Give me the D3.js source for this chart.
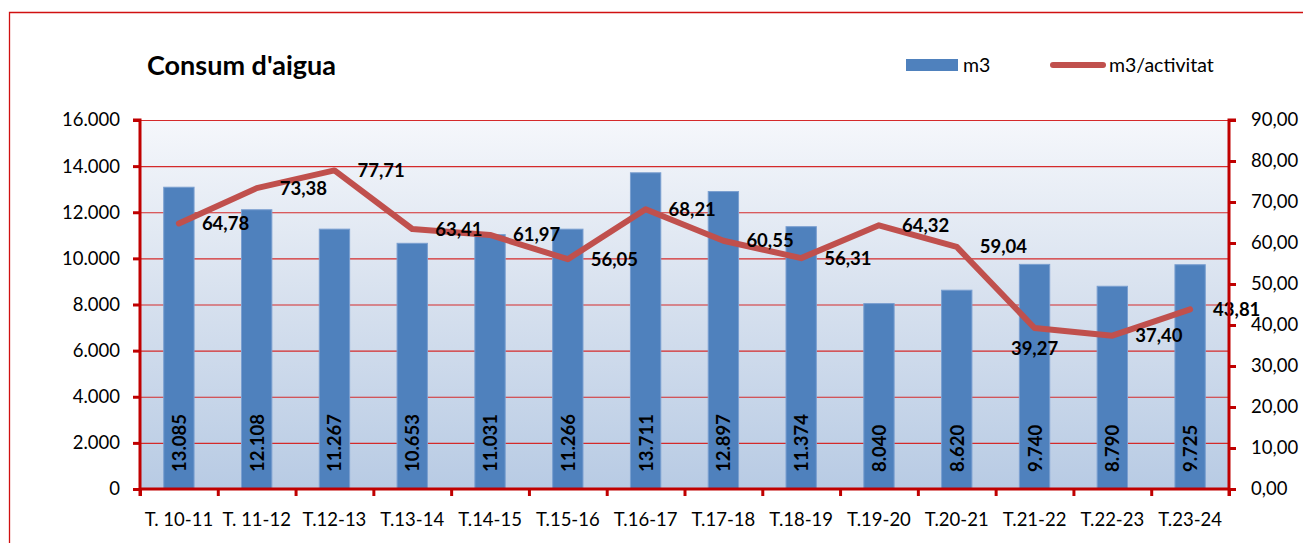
<!DOCTYPE html>
<html><head><meta charset="utf-8">
<script src="https://cdn.jsdelivr.net/npm/d3@7"></script>
<style>
html,body{margin:0;padding:0;background:#fff;}
text{font-family:Lato,"Noto Sans",sans-serif;fill:#000;}
</style></head>
<body><svg id="c" width="1303" height="543"></svg>
<script>
const categories = ["T. 10-11","T. 11-12","T.12-13","T.13-14","T.14-15","T.15-16","T.16-17","T.17-18","T.18-19","T.19-20","T.20-21","T.21-22","T.22-23","T.23-24"];
const m3 = [13085,12108,11267,10653,11031,11266,13711,12897,11374,8040,8620,9740,8790,9725];
const m3PerActivitat = [64.78,73.38,77.71,63.41,61.97,56.05,68.21,60.55,56.31,64.32,59.04,39.27,37.40,43.81];
const leftTicks = [0,2000,4000,6000,8000,10000,12000,14000,16000];
const rightTicks = [0,10,20,30,40,50,60,70,80,90];
const labelBelow = [false,false,false,false,false,false,false,false,false,false,false,true,false,false];

const svg = d3.select("#c");
const M = {l:140, r:1229, t:120, b:489};
const RED = "#c00000";

// outer border
svg.append("path").attr("d","M9.5,543 L9.5,12.5 L1303,12.5").attr("fill","none").attr("stroke","#d01010").attr("stroke-width",1.3);

const defs = svg.append("defs");
const g = defs.append("linearGradient").attr("id","bg").attr("x1",0).attr("y1",0).attr("x2",0).attr("y2",1);
g.append("stop").attr("offset","0%").attr("stop-color","#f5f7fb");
g.append("stop").attr("offset","50%").attr("stop-color","#d6e0ee");
g.append("stop").attr("offset","100%").attr("stop-color","#b8cbe4");

const x = d3.scaleBand().domain(categories).range([M.l,M.r]).paddingInner(0).paddingOuter(0);
const yL = d3.scaleLinear().domain([0,16000]).range([M.b,M.t]);
const yR = d3.scaleLinear().domain([0,90]).range([M.b,M.t]);
const xi = d3.scaleLinear().domain([0,categories.length]).range([M.l,M.r]);

svg.append("rect").attr("x",M.l).attr("y",M.t).attr("width",M.r-M.l).attr("height",M.b-M.t).attr("fill","url(#bg)");

// gridlines
svg.append("g").selectAll("line").data(leftTicks.filter(d=>d>0)).join("line")
  .attr("x1",M.l).attr("x2",M.r).attr("y1",d=>yL(d)+0.5).attr("y2",d=>yL(d)+0.5)
  .attr("stroke","#d42a2a").attr("stroke-width",1.2);

// bars
const bw = x.bandwidth()*0.39;
svg.append("g").selectAll("rect").data(m3).join("rect")
  .attr("x",(d,i)=>x(categories[i])+x.bandwidth()/2-bw/2)
  .attr("y",d=>yL(d)).attr("width",bw).attr("height",d=>M.b-yL(d))
  .attr("fill","#4f81bd").attr("stroke","#7a9fd0").attr("stroke-width",1);

// bar labels
const fmtInt = v => d3.format(",")(v).replace(/,/g,".");
svg.append("g").selectAll("text").data(m3).join("text")
  .attr("transform",(d,i)=>`translate(${x(categories[i])+x.bandwidth()/2+7},${M.b-17}) rotate(-90)`)
  .attr("font-size",18.5).attr("font-weight","bold").text(d=>fmtInt(d));

// line
const line = d3.line().x((d,i)=>x(categories[i])+x.bandwidth()/2).y(d=>yR(d));
svg.append("path").datum(m3PerActivitat).attr("d",line).attr("fill","none")
  .attr("stroke","#c0504d").attr("stroke-width",6).attr("stroke-linejoin","round").attr("stroke-linecap","round");

const fmtDec = v => v.toFixed(2).replace(".",",");
svg.append("g").selectAll("text").data(m3PerActivitat).join("text")
  .attr("x",(d,i)=>x(categories[i])+x.bandwidth()/2 + (labelBelow[i]?0:23))
  .attr("y",(d,i)=>yR(d) + (labelBelow[i]?27:6.5))
  .attr("text-anchor",(d,i)=>labelBelow[i]?"middle":"start")
  .attr("font-size",18.5).attr("font-weight","bold").text(d=>fmtDec(d));

// axes
const axL = d3.axisLeft(yL).tickValues(leftTicks).tickSize(7).tickPadding(13).tickFormat(d=>fmtInt(d));
const gL = svg.append("g").attr("transform",`translate(${M.l},0)`).call(axL);
const axR = d3.axisRight(yR).tickValues(rightTicks).tickSize(7).tickPadding(15).tickFormat(d=>fmtDec(d));
const gR = svg.append("g").attr("transform",`translate(${M.r},0)`).call(axR);
const axB = d3.axisBottom(xi).tickValues(d3.range(categories.length+1)).tickSize(7).tickFormat("");
const gB = svg.append("g").attr("transform",`translate(0,${M.b})`).call(axB);
[gL,gR,gB].forEach(a=>{
  a.select(".domain").attr("stroke",RED).attr("stroke-width",3);
  a.selectAll(".tick line").attr("stroke",RED).attr("stroke-width",3);
  a.selectAll(".tick text").attr("font-size",18.5).attr("fill","#000").attr("font-family","Lato,'Noto Sans',sans-serif");
});
gL.select(".domain").attr("d",`M-7,${M.t}H0V${M.b+7}`);
gR.select(".domain").attr("d",`M7,${M.t}H0V${M.b+7}`);
gB.select(".domain").attr("d",`M${M.l},0H${M.r}`);

// category labels
svg.append("g").selectAll("text").data(categories).join("text")
  .attr("x",d=>x(d)+x.bandwidth()/2).attr("y",526).attr("text-anchor","middle")
  .attr("font-size",18.5).text(d=>d);

// title
svg.append("text").attr("x",147).attr("y",75).attr("font-size",27).attr("font-weight","bold").text("Consum d'aigua");

// legend
svg.append("rect").attr("x",906).attr("y",59).attr("width",52).attr("height",12).attr("fill","#4f81bd");
svg.append("text").attr("x",963).attr("y",72).attr("font-size",19.5).text("m3");
svg.append("line").attr("x1",1053).attr("x2",1103).attr("y1",65).attr("y2",65).attr("stroke","#c0504d").attr("stroke-width",6).attr("stroke-linecap","round");
svg.append("text").attr("x",1109).attr("y",72).attr("font-size",19.5).text("m3/activitat");
</script></body></html>
